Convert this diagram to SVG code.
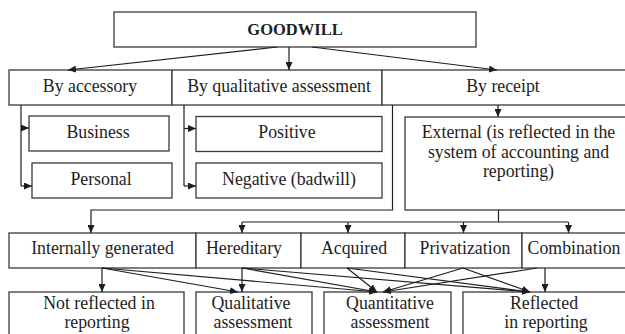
<svg xmlns="http://www.w3.org/2000/svg" width="625" height="334" viewBox="0 0 625 334">
<style>
.box{fill:#fff;stroke:#3a3a3a;stroke-width:1.3}
.t{font-family:"Liberation Serif","DejaVu Serif","Noto Serif","Times New Roman",serif;font-size:17.8px;fill:#1e1e1e;text-anchor:middle}
.b{font-weight:bold;font-size:16.5px}
.c{fill:none;stroke:#1e1e1e;stroke-width:1.2}
.a{marker-end:url(#ah)}
</style>
<defs>
<marker id="ah" markerUnits="userSpaceOnUse" markerWidth="8" markerHeight="7" refX="8" refY="3.5" orient="auto" viewBox="0 0 8 7">
<path d="M0,0 L8,3.5 L0,7 z" fill="#1e1e1e"/>
</marker>
</defs>
<rect width="625" height="334" fill="#fff"/>
<g id="goodwill"><rect class="box" x="114" y="12" width="362" height="35"/><text class="t b" font-family="Liberation Serif, serif" x="295" y="35">GOODWILL</text></g>
<g id="by-accessory"><rect class="box" x="9" y="70" width="163" height="35"/><text class="t" font-family="Liberation Serif, serif" x="90" y="92">By accessory</text></g>
<g id="by-qualitative"><rect class="box" x="172" y="70" width="210" height="35"/><text class="t" font-family="Liberation Serif, serif" x="279" y="92">By qualitative assessment</text></g>
<g id="by-receipt"><rect class="box" x="382" y="70" width="250" height="35"/><text class="t" font-family="Liberation Serif, serif" x="503" y="92">By receipt</text></g>
<g id="business"><rect class="box" x="29" y="116" width="140" height="35"/><text class="t" font-family="Liberation Serif, serif" x="98" y="137.5">Business</text></g>
<g id="personal"><rect class="box" x="32" y="163" width="140" height="35"/><text class="t" font-family="Liberation Serif, serif" x="101" y="185">Personal</text></g>
<g id="positive"><rect class="box" x="196" y="116.5" width="186" height="35"/><text class="t" font-family="Liberation Serif, serif" x="287" y="138">Positive</text></g>
<g id="negative"><rect class="box" x="196" y="163" width="186" height="35"/><text class="t" font-family="Liberation Serif, serif" x="289" y="185">Negative (badwill)</text></g>
<g id="external"><rect class="box" x="405" y="117" width="225" height="93"/><text class="t" font-family="Liberation Serif, serif" x="518.5" y="138">External (is reflected in the</text><text class="t" font-family="Liberation Serif, serif" x="518.5" y="157.5">system of accounting and</text><text class="t" font-family="Liberation Serif, serif" x="518.5" y="177">reporting)</text></g>
<g id="internally-generated"><rect class="box" x="9" y="233" width="187" height="35"/><text class="t" font-family="Liberation Serif, serif" x="102.5" y="254">Internally generated</text></g>
<g id="hereditary"><rect class="box" x="196" y="233" width="105" height="35"/><text class="t" font-family="Liberation Serif, serif" x="244" y="254">Hereditary</text></g>
<g id="acquired"><rect class="box" x="301" y="233" width="104" height="35"/><text class="t" font-family="Liberation Serif, serif" x="354" y="254">Acquired</text></g>
<g id="privatization"><rect class="box" x="405" y="233" width="117" height="35"/><text class="t" font-family="Liberation Serif, serif" x="465" y="254">Privatization</text></g>
<g id="combination"><rect class="box" x="522" y="233" width="108" height="35"/><text class="t" font-family="Liberation Serif, serif" x="574" y="254">Combination</text></g>
<g id="not-reflected"><rect class="box" x="9" y="292" width="175" height="60"/><text class="t" font-family="Liberation Serif, serif" x="99" y="308.5">Not reflected in</text><text class="t" font-family="Liberation Serif, serif" x="97" y="327.5">reporting</text></g>
<g id="qualitative"><rect class="box" x="196" y="292" width="116" height="60"/><text class="t" font-family="Liberation Serif, serif" x="251" y="308.5">Qualitative</text><text class="t" font-family="Liberation Serif, serif" x="253" y="327.5">assessment</text></g>
<g id="quantitative"><rect class="box" x="324" y="292" width="127" height="60"/><text class="t" font-family="Liberation Serif, serif" x="390" y="308.5">Quantitative</text><text class="t" font-family="Liberation Serif, serif" x="390" y="327.5">assessment</text></g>
<g id="reflected"><rect class="box" x="463" y="292" width="167" height="60"/><text class="t" font-family="Liberation Serif, serif" x="544" y="308.5">Reflected</text><text class="t" font-family="Liberation Serif, serif" x="546" y="327.5">in reporting</text></g>
<g id="connectors">
<path class="c a" d="M277,47 L68,70"/>
<path class="c a" d="M289,47 L289,70"/>
<path class="c a" d="M312,47 L497,70"/>
<path class="c" d="M21,105 V186"/>
<path class="c a" d="M21,128 H29"/>
<path class="c a" d="M21,186 H32"/>
<path class="c" d="M184,105 V186"/>
<path class="c a" d="M184,128.5 H196"/>
<path class="c a" d="M184,186 H196"/>
<path class="c a" d="M498,105 V117"/>
<path class="c a" d="M392.5,105 V210 H91 V233"/>
<path class="c" d="M498.5,210 V222 M242,222 H568.5"/>
<path class="c a" d="M242,222 V233"/>
<path class="c a" d="M348,222 V233"/>
<path class="c a" d="M463.5,222 V233"/>
<path class="c a" d="M568.5,222 V233"/>
<path class="c a" d="M102,268 V292"/>
<path class="c a" d="M102,268 L238,292"/>
<path class="c a" d="M102,268 L377,292"/>
<path class="c a" d="M242,268 V292"/>
<path class="c a" d="M242,268 L377,292"/>
<path class="c a" d="M242,268 L530,292"/>
<path class="c a" d="M347,268 L377,292"/>
<path class="c a" d="M347,268 L530,292"/>
<path class="c a" d="M463,268 L383,292"/>
<path class="c a" d="M463,268 L530,292"/>
<path class="c a" d="M537,268 L383,292"/>
<path class="c a" d="M545,268 V292"/>
</g>
</svg>
